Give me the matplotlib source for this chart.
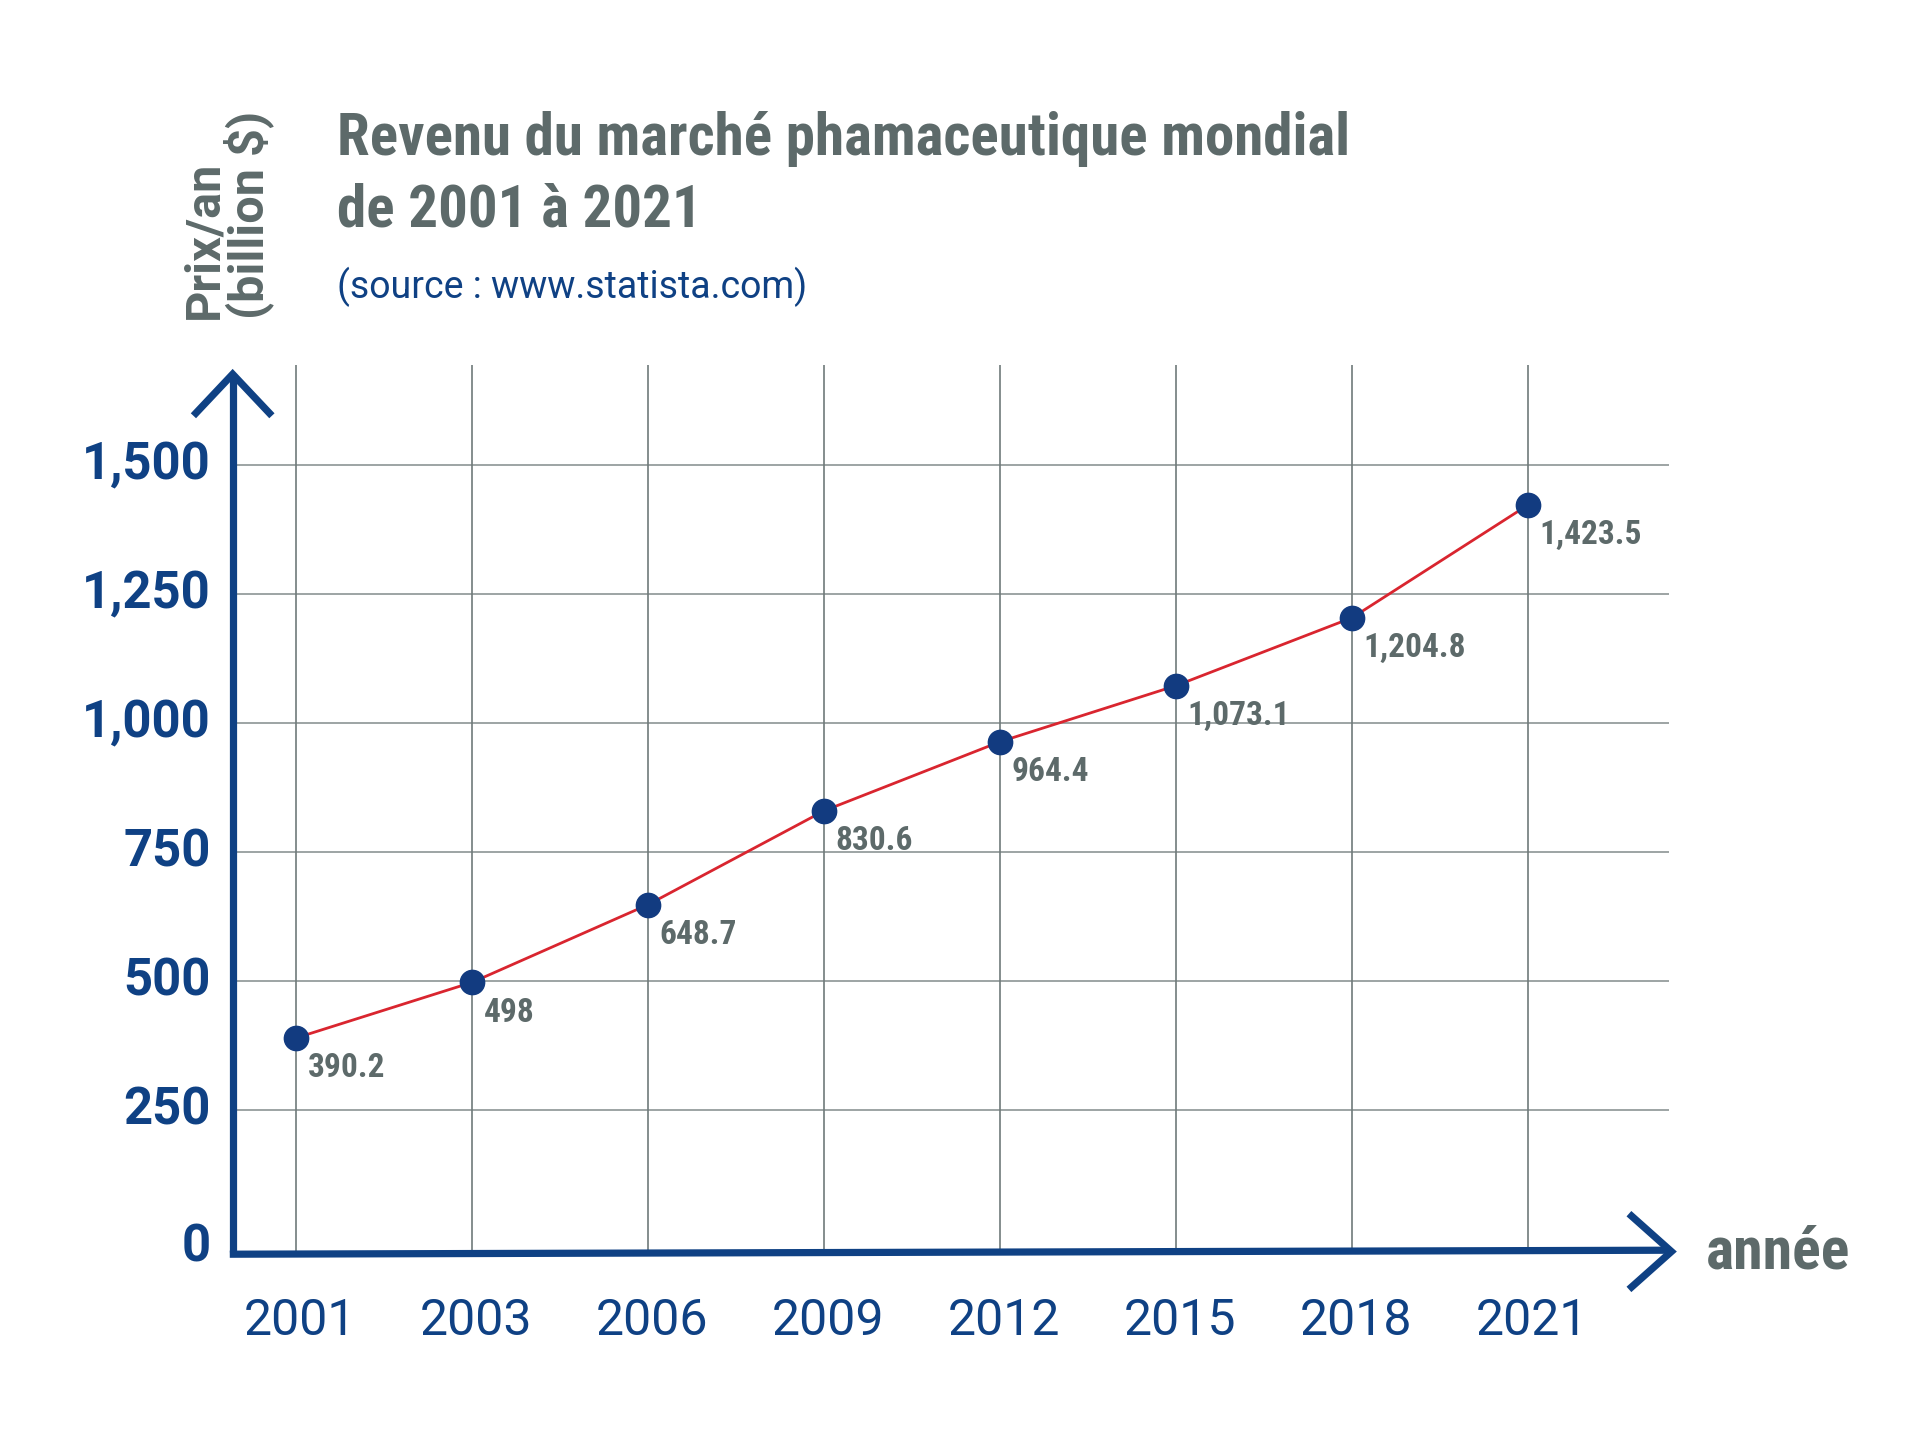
import matplotlib
matplotlib.use("Agg")
import matplotlib.pyplot as plt
from matplotlib.lines import Line2D

years = ["2001", "2003", "2006", "2009", "2012", "2015", "2018", "2021"]
revenue = [390.2, 498, 648.7, 830.6, 964.4, 1073.1, 1204.8, 1423.5]
value_labels = ["390.2", "498", "648.7", "830.6", "964.4", "1,073.1", "1,204.8", "1,423.5"]
y_ticks = [0, 250, 500, 750, 1000, 1250, 1500]
y_tick_labels = ["0", "250", "500", "750", "1,000", "1,250", "1,500"]

BLUE = "#0f4184"
DOT = "#123b80"
RED = "#d9252f"
GRAY = "#5d6a6a"
GRID = "#8c9595"
VGRID = "#6f7a7a"

COND = ["Roboto Condensed", "Roboto", "DejaVu Sans"]
ROB = ["Roboto", "DejaVu Sans"]

fig = plt.figure(figsize=(19.2, 14.44), dpi=100)
fig.patch.set_facecolor("white")

W, H = 1568.0, 1178.0
def fx(x):
    return x / W
def fy(y):
    return 1 - y / H

left, right = fx(190), fx(1363)
bottom, top = fy(1021), fy(298)
ax = fig.add_axes([left, bottom, right - left, top - bottom])

x = list(range(len(years)))
ax.set_xlim(-0.362, 7.80)
ax.set_ylim(-24, 1694)

for s in ax.spines.values():
    s.set_visible(False)
ax.set_xticks([])
ax.set_yticks([])

for yt in y_ticks[1:]:
    ax.axhline(yt, color=GRID, lw=1.2, zorder=1)
for xi in x:
    ax.axvline(xi, color=VGRID, lw=1.2, zorder=1)

ax.plot(x, revenue, color=RED, lw=2.0, zorder=3)
ax.plot(x, revenue, "o", color=DOT, markersize=17.5, zorder=4)

for xi, v, lab in zip(x, revenue, value_labels):
    ax.annotate(lab, (xi, v), xytext=(8, -22), textcoords="offset points",
                ha="left", va="center", fontsize=24, fontweight="bold",
                color=GRAY, family=COND, zorder=5)

# y tick labels
for yt, lab in zip(y_ticks, y_tick_labels):
    yy = yt if yt > 0 else -17
    ax.text(-0.0155, yy, lab, transform=ax.get_yaxis_transform(),
            ha="right", va="center", fontsize=36.5, fontweight="bold",
            color=BLUE, family=ROB)

# x tick labels
for xi, lab in zip(x, years):
    ax.text(xi + 0.02, -0.078, lab, transform=ax.get_xaxis_transform(),
            ha="center", va="center", fontsize=36, color=BLUE, family=ROB)

# axis arrows (axes fraction coords)
lw_axis = 5.2
ta = ax.transAxes
ax.add_line(Line2D([0, 0], [0.0, 0.99], transform=ta, color=BLUE, lw=lw_axis,
                   clip_on=False, solid_capstyle="butt", zorder=6))
ax.add_line(Line2D([-0.0256, 0, 0.0256], [0.946, 0.990, 0.946], transform=ta,
                   color=BLUE, lw=lw_axis, clip_on=False, solid_joinstyle="miter",
                   zorder=6))
ax.add_line(Line2D([-0.002, 1.0], [-0.003, 0.0015], transform=ta, color=BLUE, lw=lw_axis,
                   clip_on=False, solid_capstyle="butt", zorder=6))
ax.add_line(Line2D([0.974, 1.0017, 0.974], [0.040, 0.0, -0.040], transform=ta,
                   color=BLUE, lw=lw_axis, clip_on=False, solid_joinstyle="miter",
                   zorder=6))

# 'année'
fig.text(fx(1393), fy(1022), "année", ha="left", va="center", fontsize=43,
         fontweight="bold", color=GRAY, family=COND)

# titles
fig.text(fx(275), fy(113), "Revenu du marché phamaceutique mondial", ha="left",
         va="center", fontsize=42.5, fontweight="bold", color=GRAY, family=COND)
fig.text(fx(275), fy(172), "de 2001 à 2021", ha="left", va="center", fontsize=42.5,
         fontweight="bold", color=GRAY, family=COND)
fig.text(fx(275), fy(234), "(source : www.statista.com)", ha="left", va="center",
         fontsize=27, fontweight="normal", color=BLUE, family=ROB)

# y axis label
fig.text(fx(186), fy(260), "Prix/an\n(billion $)", rotation=90, ha="center",
         va="bottom", multialignment="left", fontsize=35, fontweight="bold",
         color=GRAY, family=ROB, linespacing=0.9)

fig.savefig("out.png", dpi=100, facecolor="white")
